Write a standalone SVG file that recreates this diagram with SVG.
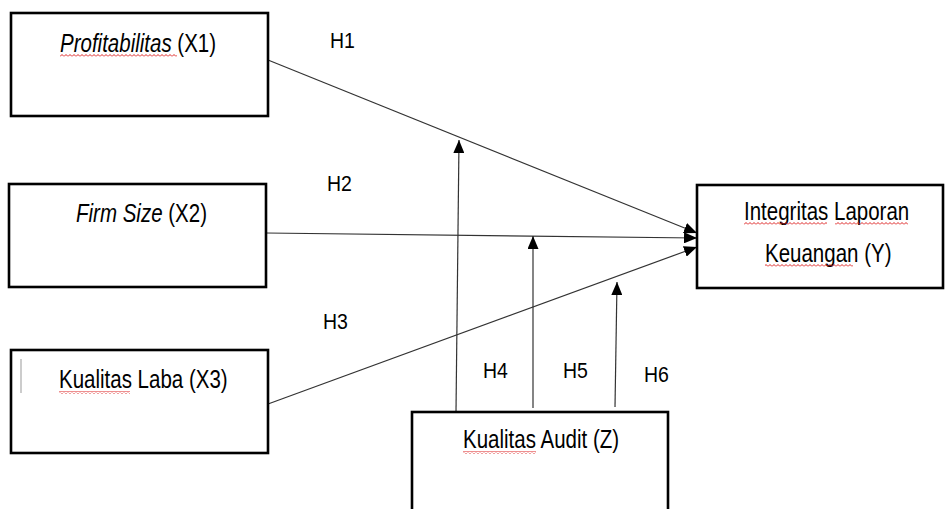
<svg xmlns="http://www.w3.org/2000/svg" width="945" height="509" viewBox="0 0 945 509">
<style>
.box{fill:#fff;stroke:#000;stroke-width:2.6}
.t{font-family:"Liberation Sans",Arial,sans-serif;font-size:20.5px;fill:#000}
.h{font-family:"Liberation Sans",Arial,sans-serif;font-size:19.5px;fill:#000}
.i{font-style:italic}
.c{stroke:#333;stroke-width:1.2;fill:none}
.arr{marker-end:url(#ah)}
.wv{fill:url(#wavy)}
</style>
<defs>
<marker id="ah" markerUnits="userSpaceOnUse" markerWidth="13" markerHeight="11" refX="13" refY="5.5" orient="auto">
<path d="M0,0 L13,5.5 L0,11 z" fill="#000"/>
</marker>
<pattern id="wavy" patternUnits="userSpaceOnUse" width="4" height="3">
<path d="M0,2.5 L2,0.5 L4,2.5" fill="none" stroke="#d22" stroke-width="1"/>
</pattern>
</defs>
<rect width="945" height="509" fill="#fff"/>
<g id="connectors">
<line class="c arr" x1="268" y1="60" x2="697" y2="233"/>
<line class="c arr" x1="266" y1="233" x2="697" y2="238"/>
<line class="c arr" x1="268" y1="404" x2="697" y2="247"/>
<line class="c arr" x1="456" y1="412" x2="459" y2="140"/>
<line class="c arr" x1="533" y1="408" x2="533" y2="236"/>
<line class="c arr" x1="615" y1="407" x2="617" y2="282"/>
</g>
<g id="labels">
<text class="h" transform="translate(330,48) scale(1,1.15)">H1</text>
<text class="h" transform="translate(327,191) scale(1,1.15)">H2</text>
<text class="h" transform="translate(323,329) scale(1,1.15)">H3</text>
<text class="h" transform="translate(483,378) scale(1,1.15)">H4</text>
<text class="h" transform="translate(563,378) scale(1,1.15)">H5</text>
<text class="h" transform="translate(644,382) scale(1,1.15)">H6</text>
</g>
<g id="x1">
<rect class="box" x="11" y="13" width="257" height="103"/>
<text class="t" transform="translate(60,52) scale(1,1.22)"><tspan class="i">Profitabilitas</tspan> (X1)</text>
<rect class="wv" x="60" y="54" width="117" height="3"/>
</g>
<g id="x2">
<rect class="box" x="9" y="184" width="257" height="103"/>
<text class="t" transform="translate(76,222) scale(1,1.22)"><tspan class="i">Firm Size</tspan> (X2)</text>
</g>
<g id="x3">
<rect class="box" x="11" y="350" width="257" height="103"/>
<line x1="21" y1="359" x2="21" y2="393" stroke="#999" stroke-width="1"/>
<text class="t" transform="translate(59,388) scale(1,1.22)">Kualitas Laba (X3)</text>
<rect class="wv" x="59" y="391" width="71" height="3"/>
</g>
<g id="y">
<rect class="box" x="697" y="185" width="246" height="103"/>
<text class="t" transform="translate(744,220) scale(1,1.22)">Integritas Laporan</text>
<rect class="wv" x="744" y="222" width="83" height="3"/>
<rect class="wv" x="835" y="222" width="73" height="3"/>
<text class="t" transform="translate(765,262) scale(1,1.22)">Keuangan (Y)</text>
<rect class="wv" x="765" y="264" width="88" height="3"/>
</g>
<g id="z">
<rect class="box" x="412" y="412" width="256" height="110"/>
<text class="t" transform="translate(463,448) scale(1,1.22)">Kualitas Audit (Z)</text>
<rect class="wv" x="463" y="451" width="73" height="3"/>
</g>
</svg>
